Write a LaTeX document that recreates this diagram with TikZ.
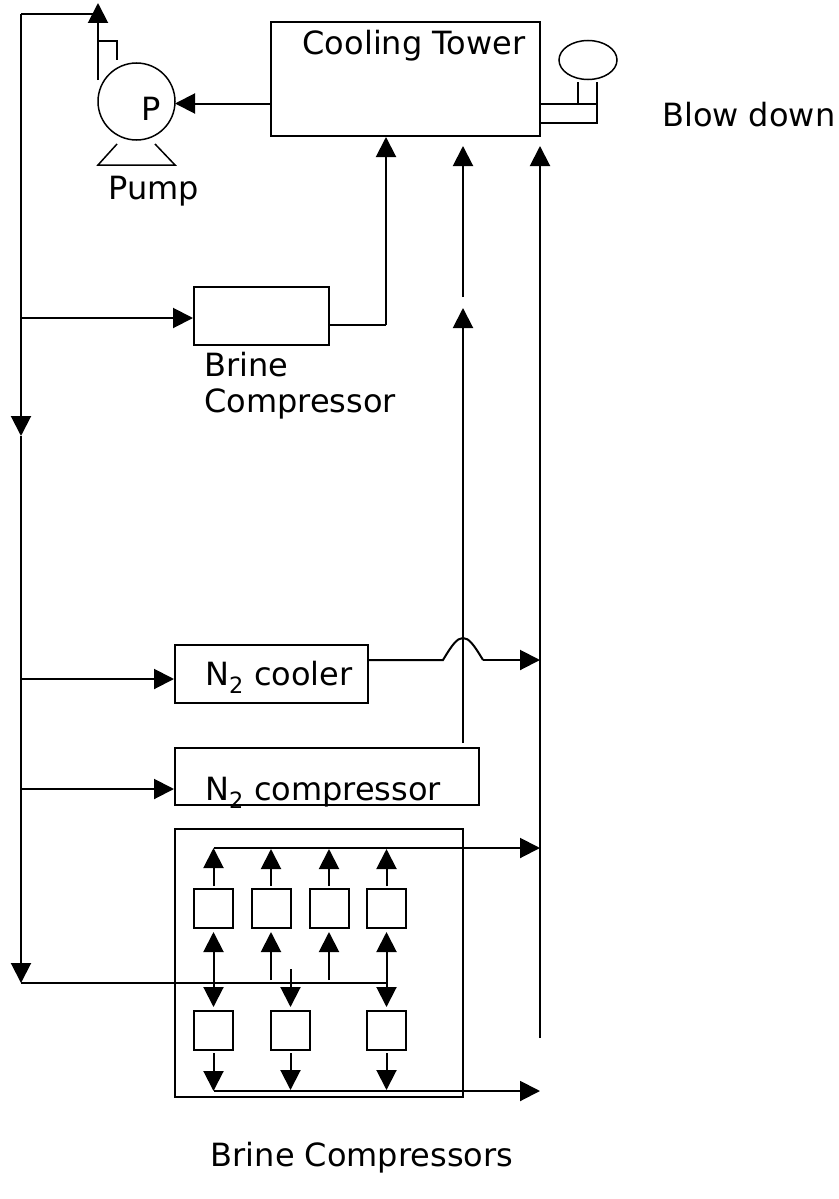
\documentclass[tikz,border=0pt]{standalone}
\usepackage{fontspec}
\setmainfont{DejaVu Sans}
\usetikzlibrary{arrows.meta,shapes.geometric}
\tikzset{
  boxs/.style={draw=black,line width=2pt,rectangle,inner sep=0pt,fill=white},
  small/.style={boxs,minimum width=39pt,minimum height=39pt},
  lbl/.style={inner sep=0pt,font=\fontsize{32}{36}\selectfont,align=left},
  pipe/.style={line width=2pt,line join=miter},
  thinpipe/.style={line width=1.5pt,line join=miter},
  flow/.style={pipe,-{Triangle[length=20pt,width=20pt]},shorten >=0pt}
}
\begin{document}
\begin{tikzpicture}[x=1pt,y=-1pt]
\useasboundingbox (0,0) rectangle (838,1199);
% main boxes
\node[boxs,minimum width=269pt,minimum height=114pt] (tower) at (405.5,79) {};
\node[boxs,minimum width=135pt,minimum height=58pt] (brine) at (261.5,316) {};
\node[boxs,minimum width=193pt,minimum height=58pt] (cooler) at (271.5,674) {};
\node[boxs,minimum width=304pt,minimum height=57pt] (ncomp) at (327,776.5) {};
\node[boxs,minimum width=288pt,minimum height=268pt] (bank) at (319,963) {};
% pump
\node[draw,circle,line width=1.5pt,minimum size=77pt,inner sep=0pt] (pump) at (136.5,101.5) {};
\node[draw,ellipse,line width=1.5pt,minimum width=58pt,minimum height=39pt,inner sep=0pt] (drum) at (588,60) {};
% small boxes
\node[small] (u1) at (213.5,908.5) {};
\node[small] (u2) at (271,908.5) {};
\node[small] (u3) at (329,908.5) {};
\node[small] (u4) at (386.5,908.5) {};
\node[small] (d1) at (213.5,1030.5) {};
\node[small] (d2) at (290.5,1030.5) {};
\node[small] (d3) at (386.5,1030.5) {};
% labels
\node[lbl] (tTower) at (414,46) {Cooling Tower};
\node[lbl] (tP) at (151,109) {P};
\node[lbl] (tPump) at (154,191) {Pump};
\node[lbl,anchor=west] (tBlow) at (662,115) {Blow down};
\node[lbl,anchor=north west] (tBrine) at (204,352) {Brine\\[0pt]Compressor};
\node[lbl,anchor=west] (tCooler) at (205,677) {N\textsubscript{2} cooler};
\node[lbl,anchor=west] (tComp) at (205,793) {N\textsubscript{2} compressor};
\node[lbl] (tBank) at (362,1158) {Brine Compressors};
% coordinates
\coordinate (top) at (21,14);
\coordinate (railA) at (21,318);
\coordinate (railB) at (21,679);
\coordinate (railC) at (21,789);
\coordinate (railD) at (21,983);
\coordinate (mid1) at (21,436);
\coordinate (pumpOut) at (98,3);
\coordinate (pumpBase) at (98,80);
\coordinate (x463a) at (463,146);
\coordinate (x463b) at (463,297);
\coordinate (x463c) at (463,308);
\coordinate (x463d) at (463,743);
\coordinate (x540a) at (540,146);
\coordinate (x540b) at (540,1038);
\coordinate (hdrTop) at (213.5,848);
\coordinate (hdrBot) at (213.5,1091);
% main rail
\draw[flow] (top) -- (mid1);
\draw[flow] (mid1) -- (railD);
\draw[pipe] (top) -- (top -| pumpOut);
\draw[flow] (pumpBase) -- (pumpOut);
\draw[thinpipe] (98,41) -- (117,41) -- (117,60);
% pump details
\draw[thinpipe] (117,144) -- (98,165) -- (175,165) -- (155,144);
\draw[flow] (tower.west |- 0,103.5) -- (175,103.5);
% feeds
\draw[flow] (railA) -- (railA -| brine.west);
\draw[flow] (railB) -- (railB -| cooler.west);
\draw[flow] (railC) -- (railC -| ncomp.west);
% returns
\draw[pipe] (brine.east |- 0,325) -- (386,325);
\draw[flow] (386,325) -- (386,137);
\draw[flow] (x463b) -- (x463a);
\draw[flow] (x463d) -- (x463c);
\draw[flow] (x540b) -- (x540a);
\draw[pipe] (cooler.east |- 0,660) -- (443,660) .. controls (452,645) and (457,638) .. (463,638) .. controls (469,638) and (474,645) .. (483,660);
\draw[flow] (483,660) -- (540,660);
% blow down
\draw[thinpipe] (578,82) -- (578,104);
\draw[thinpipe] (597,82) -- (597,123) -- (tower.east |- 0,123);
\draw[thinpipe] (597,104) -- (tower.east |- 0,104);
% bank
\draw[flow] (hdrTop) -- (540,848);
\draw[flow] (hdrBot) -- (540,1091);
\draw[flow] (u1.north) ++(0,-2) -- (hdrTop);
\draw[flow] (u2.north) ++(0,-2) -- (271,849);
\draw[flow] (u3.north) ++(0,-2) -- (329,849);
\draw[flow] (u4.north) ++(0,-2) -- (386.5,849);
\draw[pipe] (railD) -- (386.5,983);
\draw[flow] (213.5,983) -- (213.5,932);
\draw[flow] (271,980) -- (271,932);
\draw[flow] (329,980) -- (329,932);
\draw[flow] (386.5,983) -- (386.5,932);
\draw[flow] (213.5,983) -- (213.5,1007);
\draw[flow] (290.5,969) -- (290.5,1007);
\draw[flow] (386.5,983) -- (386.5,1007);
\draw[flow] (d1.south) ++(0,2) -- (hdrBot);
\draw[flow] (d2.south) ++(0,2) -- (290.5,1090);
\draw[flow] (d3.south) ++(0,2) -- (386.5,1090);
\end{tikzpicture}
\end{document}
